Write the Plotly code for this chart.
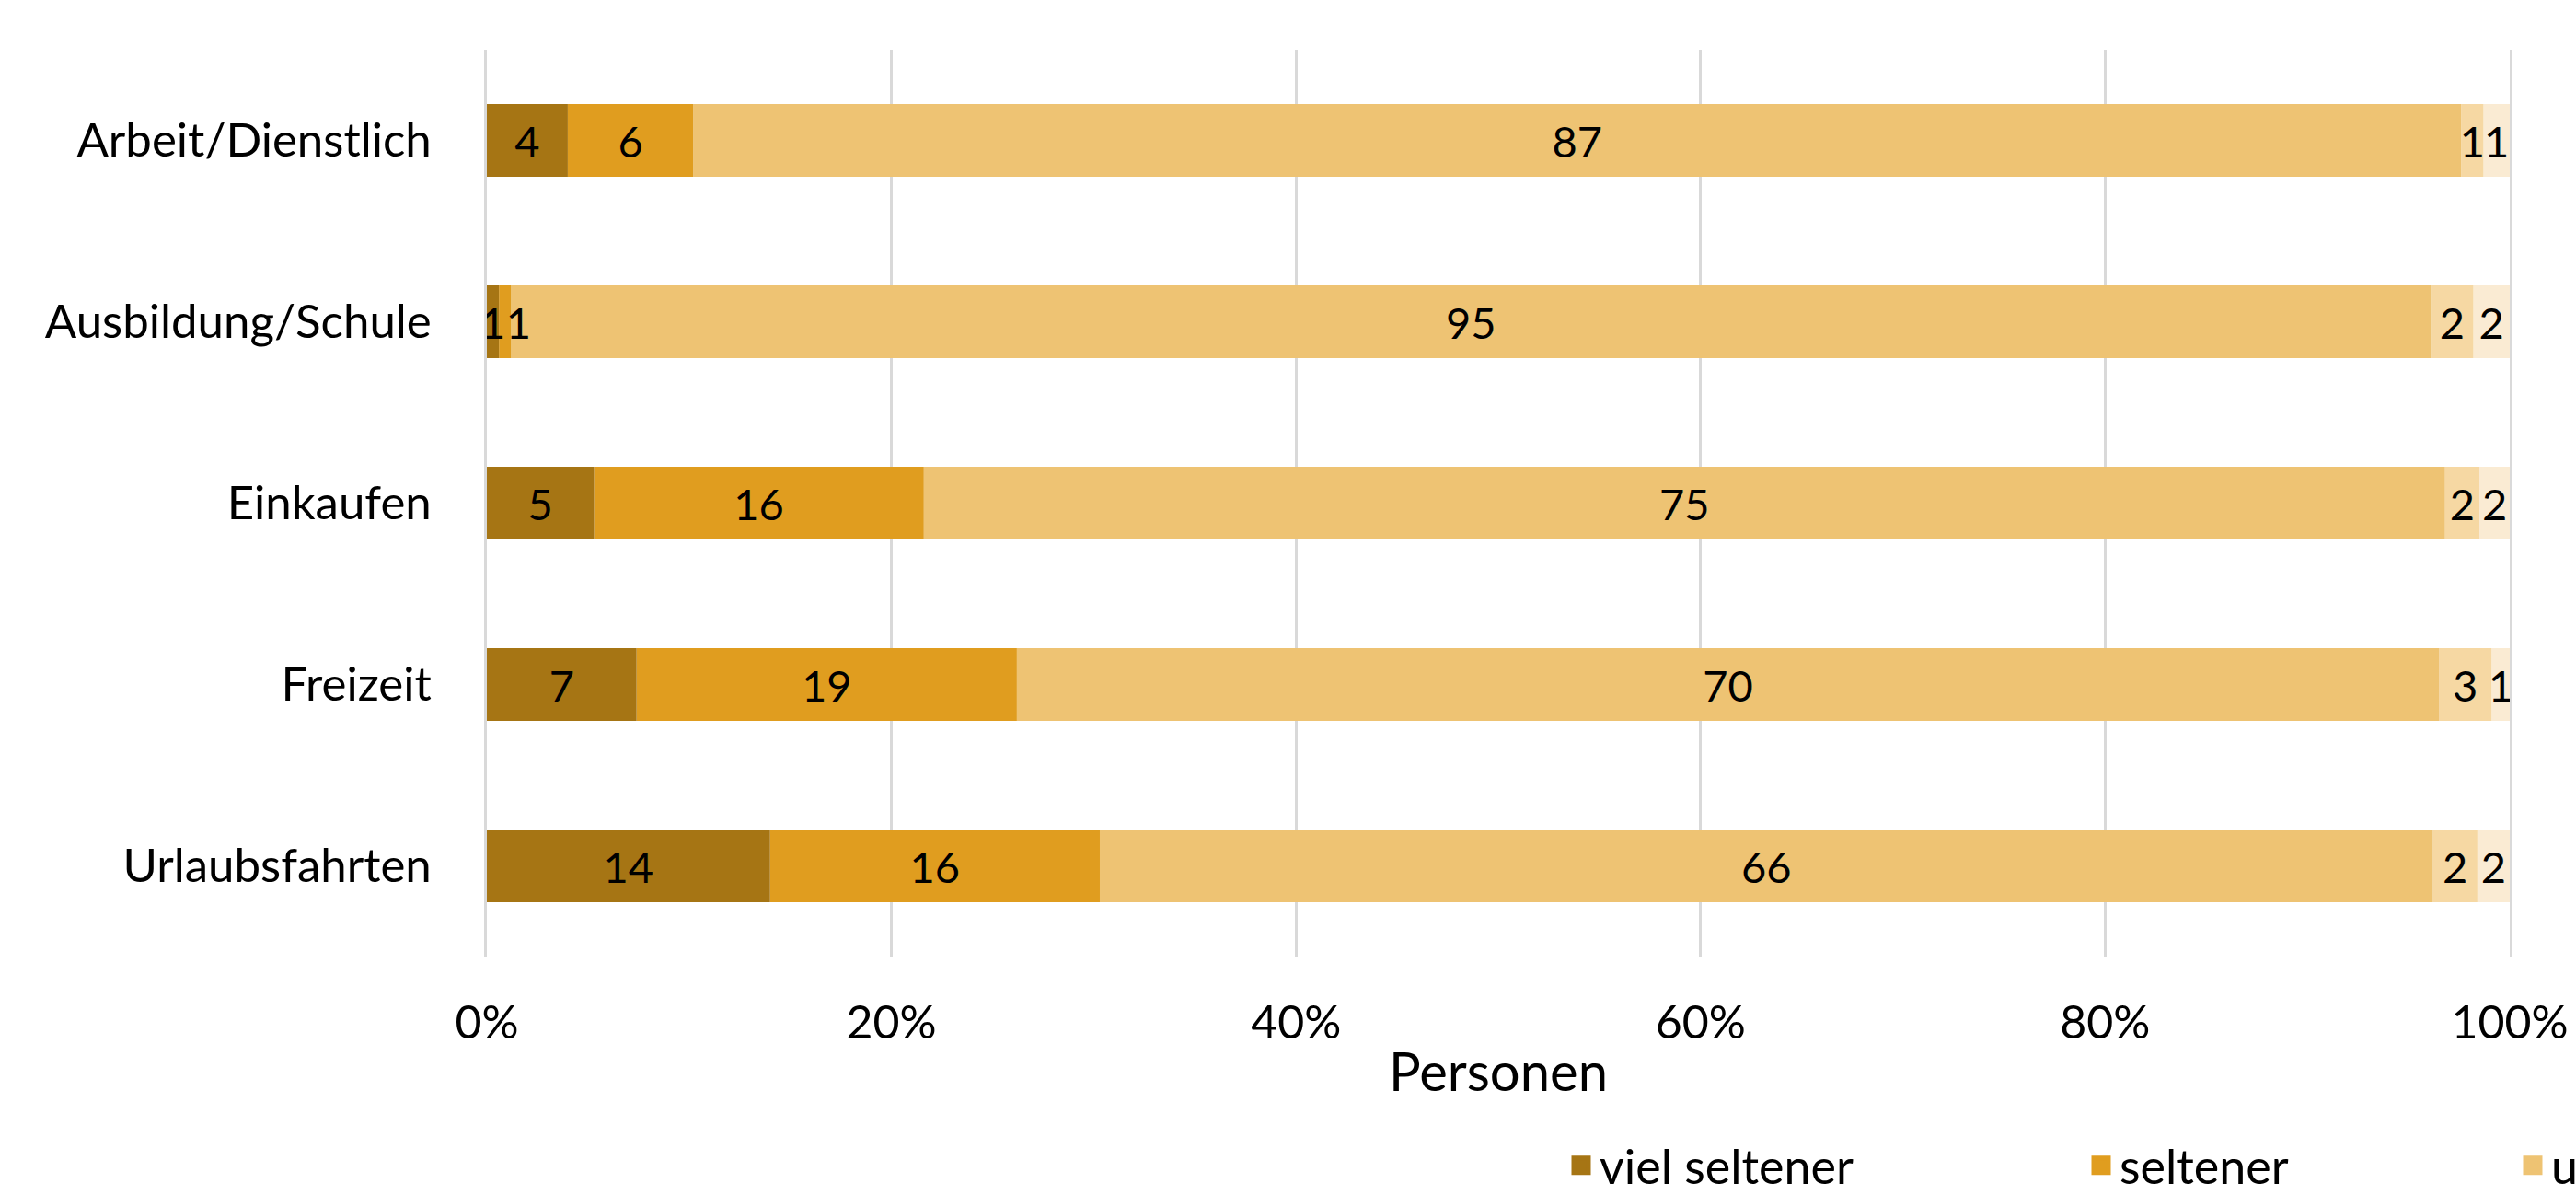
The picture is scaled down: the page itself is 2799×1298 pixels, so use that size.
import plotly.graph_objects as go

categories = ["Arbeit/Dienstlich", "Ausbildung/Schule", "Einkaufen", "Freizeit", "Urlaubsfahrten"]
series_names = ["viel seltener", "seltener", "unverändert", "häufiger", "viel häufiger"]
viel_seltener = [4.0, 0.6, 5.3, 7.4, 14.0]
seltener = [6.2, 0.6, 16.3, 18.8, 16.3]
unveraendert = [87.4, 94.9, 75.2, 70.3, 65.9]
haeufiger = [1.1, 2.1, 1.7, 2.6, 2.2]
viel_haeufiger = [1.3, 1.8, 1.5, 0.9, 1.6]
x_ticks = [0, 20, 40, 60, 80, 100]
x_tick_labels = ["0%", "20%", "40%", "60%", "80%", "100%"]

colors = ["#A67514", "#E09D1F", "#EEC373", "#F6D8A3", "#FAEBD3"]
legend_ids = ["legend", "legend2", "legend3", "legend3", "legend3"]
values = [viel_seltener, seltener, unveraendert, haeufiger, viel_haeufiger]

# stacked positions: start of each segment = sum of the series before it
bases = []
running = [0.0] * len(categories)
for vals in values:
    bases.append(list(running))
    running = [r + v for r, v in zip(running, vals)]

# data labels; a label on a very thin segment next to another thin one is nudged right
labels_all = []
prev = None
for vals in values:
    labels = []
    for i, v in enumerate(vals):
        t = f"{v:.0f}"
        if prev is not None and v < 1 and prev[i] < 1:
            t = "\u2002\u2009" + t
        labels.append(t)
    labels_all.append(labels)
    prev = vals

FONT = "Lato"
GRID = "#D9D9D9"
fig = go.Figure()
# add segments right-to-left so that labels of left segments are drawn on top
for k in reversed(range(len(series_names))):
    fig.add_trace(go.Bar(
        y=categories, x=values[k], base=bases[k], name=series_names[k], orientation="h",
        marker=dict(color=colors[k], line=dict(width=0)),
        text=labels_all[k], textangle=0, constraintext="none",
        textposition="inside", insidetextanchor="middle",
        textfont=dict(family=FONT, size=47, color="black"),
        showlegend=False, legendgroup=series_names[k],
    ))
# legend entries (square swatches like the original legend)
for name, col, lg in zip(series_names, colors, legend_ids):
    fig.add_trace(go.Scatter(
        x=[None], y=[None], mode="markers", name=name, legendgroup=name,
        marker=dict(symbol="square", size=16, color=col, line=dict(color=col, width=5)),
        legend=lg, showlegend=True, hoverinfo="skip",
    ))

W, H = 2799, 1298
ml, mr, mt, mb = 529, 72, 54, 259
pw = W - ml - mr
ph = H - mt - mb

def lx(px):
    return (px - ml) / pw

ly = (H - mb - 1266) / ph
leg_common = dict(orientation="h", yanchor="middle", y=ly, xanchor="left", traceorder="normal",
                  bgcolor="rgba(0,0,0,0)", font=dict(family=FONT, size=52, color="black"))

fig.update_layout(
    width=W, height=H,
    showlegend=True,
    barmode="overlay", bargap=0.6,
    plot_bgcolor="white", paper_bgcolor="white",
    margin=dict(l=ml, r=mr, t=mt, b=mb, autoexpand=False),
    font=dict(family=FONT, color="black"),
    xaxis=dict(range=[0, 100], tickvals=x_ticks, ticktext=x_tick_labels,
               showgrid=True, gridcolor=GRID, gridwidth=3, zeroline=False,
               showline=False, tickfont=dict(family=FONT, size=50, color="black"),
               ticklabelstandoff=38,
               title=dict(text="Personen", font=dict(family=FONT, size=58, color="black"), standoff=6)),
    yaxis=dict(autorange="reversed", showgrid=False, zeroline=False,
               showline=True, linecolor=GRID, linewidth=3, mirror=True, layer="below traces",
               tickfont=dict(family=FONT, size=51, color="black"), ticklabelstandoff=47),
    legend=dict(x=lx(1698), **leg_common),
    legend2=dict(x=lx(2263), **leg_common),
    legend3=dict(x=lx(2732), **leg_common),
)

fig.write_html("out.html")
